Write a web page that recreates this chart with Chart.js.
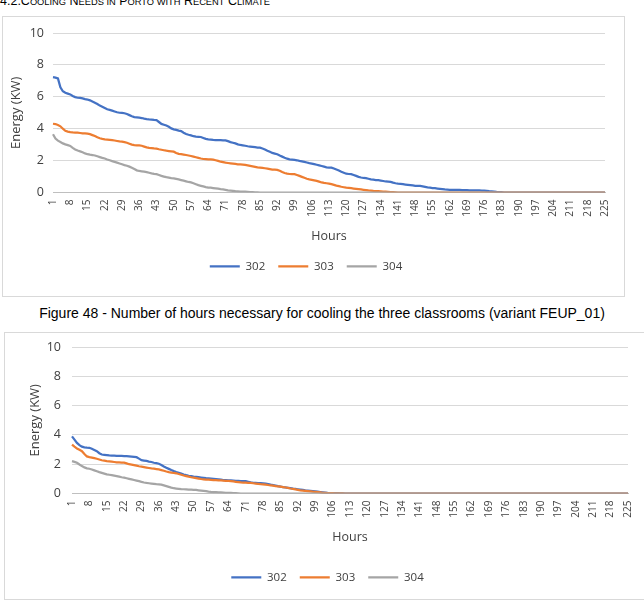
<!DOCTYPE html>
<html><head><meta charset="utf-8">
<script src="https://cdn.jsdelivr.net/npm/chart.js@4.4.1/dist/chart.umd.min.js"></script>
<style>
html,body{margin:0;padding:0;background:#fff;width:644px;height:611px;overflow:hidden;position:relative;}
#hdr{position:absolute;left:0;top:-6px;font:12.5px "Liberation Sans",Arial,sans-serif;color:#000;white-space:nowrap;}
#hdr .s{font-size:9.3px;}
.box{position:absolute;border:1px solid #d9d9d9;background:#fff;overflow:hidden;}
#box1{left:2px;top:16px;width:621px;height:279px;}
#box2{left:4px;top:332px;width:645px;height:266px;}
#cap{position:absolute;left:0;width:644px;top:305px;text-align:center;font:14px "Liberation Sans",Arial,sans-serif;color:#000;white-space:nowrap;}
canvas{display:block;}
</style>
</head><body>
<div id="hdr">4.2.C<span class="s">OOLING</span> N<span class="s">EEDS IN</span> P<span class="s">ORTO WITH</span> R<span class="s">ECENT</span> C<span class="s">LIMATE</span></div>
<div class="box" id="box1"><canvas id="c1" width="621" height="279"></canvas></div>
<div id="cap">Figure 48 - Number of hours necessary for cooling the three classrooms (variant FEUP_01)</div>
<div class="box" id="box2"><canvas id="c2" width="645" height="266"></canvas></div>
<script>
// Categories: hours 1..225
const hours = Array.from({length: 225}, (_, i) => String(i + 1));
const seriesNames = ['302', '303', '304'];
const yTicks = [0, 2, 4, 6, 8, 10];

// Top chart (Porto, recent climate)
const top302 = [
7.23,7.2,7.15,6.6,6.35,6.25,6.2,6.15,6.05,5.98,
5.94,5.93,5.9,5.85,5.83,5.78,5.7,5.63,5.55,5.45,
5.38,5.3,5.22,5.18,5.13,5.08,5.03,5.0,4.99,4.97,
4.92,4.85,4.78,4.73,4.71,4.69,4.67,4.63,4.6,4.58,
4.57,4.55,4.54,4.42,4.3,4.25,4.2,4.12,4.02,3.96,
3.93,3.88,3.85,3.75,3.67,3.62,3.58,3.53,3.5,3.49,
3.48,3.42,3.36,3.33,3.32,3.3,3.29,3.28,3.28,3.27,
3.27,3.22,3.16,3.12,3.08,3.02,2.98,2.96,2.93,2.9,
2.88,2.86,2.84,2.82,2.81,2.76,2.7,2.62,2.55,2.48,
2.44,2.4,2.32,2.25,2.18,2.12,2.08,2.06,2.04,2.02,
1.98,1.95,1.92,1.88,1.84,1.81,1.78,1.74,1.7,1.66,
1.62,1.58,1.56,1.56,1.5,1.44,1.38,1.3,1.24,1.18,
1.16,1.15,1.1,1.04,0.98,0.94,0.91,0.9,0.86,0.82,
0.8,0.78,0.77,0.75,0.72,0.69,0.68,0.67,0.62,0.58,
0.55,0.54,0.52,0.5,0.48,0.46,0.44,0.42,0.42,0.41,
0.38,0.35,0.32,0.3,0.28,0.27,0.25,0.23,0.21,0.19,
0.18,0.17,0.17,0.16,0.16,0.16,0.15,0.15,0.15,0.14,
0.14,0.13,0.13,0.13,0.12,0.12,0.1,0.08,0.07,0.06,
0.04,0.03,0.02,
0,0,0,0,0,0,0,0,0,0,
0,0,0,0,0,0,0,0,0,0,
0,0,0,0,0,0,0,0,0,0,
0,0,0,0,0,0,0,0,0,0,
0,0];
const top303 = [
4.31,4.29,4.23,4.15,4.0,3.87,3.82,3.79,3.77,3.76,
3.75,3.73,3.71,3.7,3.69,3.66,3.6,3.54,3.46,3.4,
3.36,3.33,3.32,3.3,3.28,3.26,3.23,3.2,3.19,3.16,
3.12,3.06,3.0,2.97,2.96,2.96,2.93,2.88,2.83,2.8,
2.78,2.76,2.75,2.71,2.68,2.65,2.62,2.6,2.58,2.56,
2.48,2.42,2.4,2.38,2.35,2.32,2.29,2.25,2.21,2.17,
2.13,2.1,2.09,2.08,2.08,2.06,2.02,1.98,1.93,1.9,
1.87,1.85,1.83,1.81,1.79,1.77,1.76,1.75,1.73,1.7,
1.67,1.64,1.61,1.58,1.56,1.54,1.52,1.5,1.47,1.44,
1.43,1.42,1.36,1.28,1.22,1.18,1.16,1.15,1.15,1.1,
1.04,0.98,0.92,0.86,0.82,0.79,0.76,0.73,0.68,0.63,
0.6,0.58,0.56,0.52,0.48,0.43,0.4,0.36,0.33,0.3,
0.29,0.27,0.25,0.23,0.21,0.19,0.17,0.15,0.13,0.12,
0.1,0.09,0.08,0.07,0.06,0.05,0.04,0.03,0.02,0.01,
0,0,0,0,0,0,0,0,0,0,
0,0,0,0,0,0,0,0,0,0,
0,0,0,0,0,0,0,0,0,0,
0,0,0,0,0,0,0,0,0,0,
0,0,0,0,0,0,0,0,0,0,
0,0,0,0,0,0,0,0,0,0,
0,0,0,0,0,0,0,0,0,0,
0,0,0,0,0,0,0,0,0,0,
0,0,0,0,0];
const top304 = [
3.65,3.38,3.25,3.17,3.08,3.02,2.97,2.92,2.8,2.7,
2.63,2.58,2.52,2.45,2.4,2.37,2.35,2.32,2.27,2.22,
2.17,2.13,2.07,2.02,1.97,1.92,1.87,1.82,1.77,1.72,
1.68,1.62,1.55,1.47,1.39,1.35,1.33,1.31,1.28,1.24,
1.2,1.17,1.15,1.1,1.04,1.0,0.96,0.93,0.9,0.88,
0.85,0.82,0.78,0.74,0.7,0.66,0.63,0.58,0.52,0.46,
0.42,0.38,0.34,0.31,0.3,0.28,0.26,0.24,0.21,0.19,
0.17,0.14,0.12,0.1,0.08,0.07,0.06,0.06,0.05,0.04,
0.03,0.02,0.01,0.01,
0,0,0,0,0,0,0,0,0,0,
0,0,0,0,0,0,0,0,0,0,
0,0,0,0,0,0,0,0,0,0,
0,0,0,0,0,0,0,0,0,0,
0,0,0,0,0,0,0,0,0,0,
0,0,0,0,0,0,0,0,0,0,
0,0,0,0,0,0,0,0,0,0,
0,0,0,0,0,0,0,0,0,0,
0,0,0,0,0,0,0,0,0,0,
0,0,0,0,0,0,0,0,0,0,
0,0,0,0,0,0,0,0,0,0,
0,0,0,0,0,0,0,0,0,0,
0,0,0,0,0,0,0,0,0,0,
0,0,0,0,0,0,0,0,0,0,
0];

// Bottom chart (variant FEUP_01)
const bot302 = [
3.9,3.68,3.45,3.3,3.2,3.15,3.13,3.12,3.05,2.97,
2.89,2.75,2.66,2.64,2.62,2.6,2.59,2.58,2.57,2.56,
2.56,2.55,2.55,2.54,2.52,2.5,2.48,2.38,2.28,2.25,
2.22,2.18,2.15,2.1,2.07,2.03,1.95,1.85,1.76,1.68,
1.6,1.53,1.47,1.42,1.36,1.3,1.25,1.21,1.18,1.15,
1.13,1.11,1.09,1.07,1.05,1.04,1.02,1.0,0.98,0.96,
0.94,0.92,0.91,0.9,0.89,0.88,0.87,0.86,0.85,0.85,
0.84,0.8,0.76,0.73,0.72,0.71,0.71,0.7,0.67,0.64,
0.6,0.57,0.54,0.5,0.47,0.44,0.42,0.39,0.36,0.33,
0.31,0.29,0.27,0.25,0.22,0.2,0.18,0.16,0.14,0.12,
0.1,0.08,0.06,0.04,0.03,0.03,0.02,0.02,0.01,0.01,
0,0,0,0,0,0,0,0,0,0,
0,0,0,0,0,0,0,0,0,0,
0,0,0,0,0,0,0,0,0,0,
0,0,0,0,0,0,0,0,0,0,
0,0,0,0,0,0,0,0,0,0,
0,0,0,0,0,0,0,0,0,0,
0,0,0,0,0,0,0,0,0,0,
0,0,0,0,0,0,0,0,0,0,
0,0,0,0,0,0,0,0,0,0,
0,0,0,0,0,0,0,0,0,0,
0,0,0,0,0,0,0,0,0,0,
0,0,0,0,0];
const bot303 = [
3.34,3.2,3.07,2.98,2.89,2.7,2.53,2.48,2.45,2.41,
2.37,2.32,2.27,2.24,2.21,2.19,2.17,2.15,2.13,2.12,
2.11,2.1,2.06,2.0,1.97,1.94,1.9,1.86,1.83,1.8,
1.77,1.74,1.71,1.69,1.67,1.65,1.6,1.55,1.5,1.46,
1.43,1.4,1.38,1.33,1.28,1.23,1.19,1.15,1.11,1.08,
1.05,1.02,0.99,0.97,0.95,0.94,0.93,0.92,0.91,0.9,
0.89,0.88,0.87,0.86,0.84,0.82,0.8,0.78,0.76,0.75,
0.74,0.73,0.72,0.7,0.68,0.66,0.64,0.63,0.61,0.58,
0.56,0.54,0.51,0.49,0.47,0.44,0.41,0.38,0.34,0.31,
0.28,0.25,0.22,0.2,0.18,0.16,0.14,0.12,0.11,0.09,
0.07,0.05,0.04,0.03,0.02,0.02,0.01,0.01,0.01,0.01,
0,0,0,0,0,0,0,0,0,0,
0,0,0,0,0,0,0,0,0,0,
0,0,0,0,0,0,0,0,0,0,
0,0,0,0,0,0,0,0,0,0,
0,0,0,0,0,0,0,0,0,0,
0,0,0,0,0,0,0,0,0,0,
0,0,0,0,0,0,0,0,0,0,
0,0,0,0,0,0,0,0,0,0,
0,0,0,0,0,0,0,0,0,0,
0,0,0,0,0,0,0,0,0,0,
0,0,0,0,0,0,0,0,0,0,
0,0,0,0,0];
const bot304 = [
2.21,2.16,2.1,1.98,1.87,1.78,1.72,1.69,1.64,1.58,
1.52,1.46,1.41,1.36,1.31,1.28,1.25,1.22,1.19,1.15,
1.11,1.08,1.04,1.0,0.96,0.92,0.88,0.84,0.79,0.75,
0.72,0.7,0.68,0.66,0.64,0.63,0.6,0.55,0.5,0.45,
0.4,0.36,0.34,0.32,0.3,0.29,0.28,0.27,0.26,0.25,
0.24,0.22,0.2,0.18,0.16,0.13,0.11,0.1,0.09,0.08,
0.07,0.06,0.05,0.05,0.04,0.03,0.02,0.01,0,0,
0,0,0,0,0,0,0,0,0,0,
0,0,0,0,0,0,0,0,0,0,
0,0,0,0,0,0,0,0,0,0,
0,0,0,0,0,0,0,0,0,0,
0,0,0,0,0,0,0,0,0,0,
0,0,0,0,0,0,0,0,0,0,
0,0,0,0,0,0,0,0,0,0,
0,0,0,0,0,0,0,0,0,0,
0,0,0,0,0,0,0,0,0,0,
0,0,0,0,0,0,0,0,0,0,
0,0,0,0,0,0,0,0,0,0,
0,0,0,0,0,0,0,0,0,0,
0,0,0,0,0,0,0,0,0,0,
0,0,0,0,0,0,0,0,0,0,
0,0,0,0,0,0,0,0,0,0,
0,0,0,0,0];

const colors = ['#4472C4', '#ED7D31', '#A5A5A5'];
const FONT = '"Open Sans", "DejaVu Sans", sans-serif';
const TXT = '#404040';
const GRID = '#d9d9d9';

function makeChart(id, data, L) {
  return new Chart(document.getElementById(id), {
    type: 'line',
    data: {
      labels: hours,
      datasets: data.map((d, i) => ({
        label: seriesNames[i],
        data: d,
        borderColor: colors[i],
        backgroundColor: colors[i],
        borderWidth: 2.25,
        pointRadius: 0,
        tension: 0,
        fill: false,
        order: 3 - i
      }))
    },
    options: {
      responsive: false,
      animation: false,
      devicePixelRatio: 1,
      layout: { padding: { left: L.padLeft, right: L.padRight, top: L.padTop, bottom: L.padBottom } },
      plugins: {
        tooltip: { enabled: false },
        legend: {
          position: 'bottom',
          labels: {
            usePointStyle: true,
            pointStyle: 'line',
            pointStyleWidth: 30,
            boxHeight: 11,
            padding: 13,
            color: TXT,
            font: { family: FONT, size: 11.5 },
            sort: (a, b) => a.datasetIndex - b.datasetIndex
          }
        }
      },
      scales: {
        x: {
          type: 'category',
          offset: false,
          grid: { display: false, drawTicks: false },
          border: { display: true, color: '#bfbfbf', width: 1 },
          ticks: {
            autoSkip: false,
            minRotation: 90,
            maxRotation: 90,
            padding: 7,
            color: TXT,
            font: { family: FONT, size: 10 },
            callback: function (v, idx) { return idx % 7 === 0 ? this.getLabelForValue(v) : null; }
          },
          title: { display: true, text: 'Hours', color: TXT, font: { family: FONT, size: 12.5 }, padding: { top: 4, bottom: L.xTitlePadBottom } },
          afterFit: s => { s.height = L.xHeight; }
        },
        y: {
          min: 0, max: 10,
          afterBuildTicks: s => { s.ticks = yTicks.map(v => ({ value: v })); },
          grid: { color: GRID, lineWidth: 1, drawTicks: false },
          border: { display: false },
          ticks: { padding: L.yTickPad, color: TXT, font: { family: FONT, size: 12.5 } },
          title: { display: true, text: 'Energy (KW)', color: TXT, font: { family: FONT, size: 13 }, padding: { top: L.yTitlePad, bottom: 0 } },
          afterFit: s => { s.width = L.yWidth; s.paddingTop = 0; s.paddingBottom = 0; }
        }
      }
    }
  });
}

makeChart('c1', [top302, top303, top304], { padLeft: 0, padRight: 15, padTop: 16, padBottom: 14, xHeight: 55, xTitlePadBottom: 4, yWidth: 50, yTickPad: 9, yTitlePad: 5 });
makeChart('c2', [bot302, bot303, bot304], { padLeft: 22, padRight: 22, padTop: 14, padBottom: 6, xHeight: 65, xTitlePadBottom: 14, yWidth: 45, yTickPad: 11, yTitlePad: 0 });
</script>
</body></html>
